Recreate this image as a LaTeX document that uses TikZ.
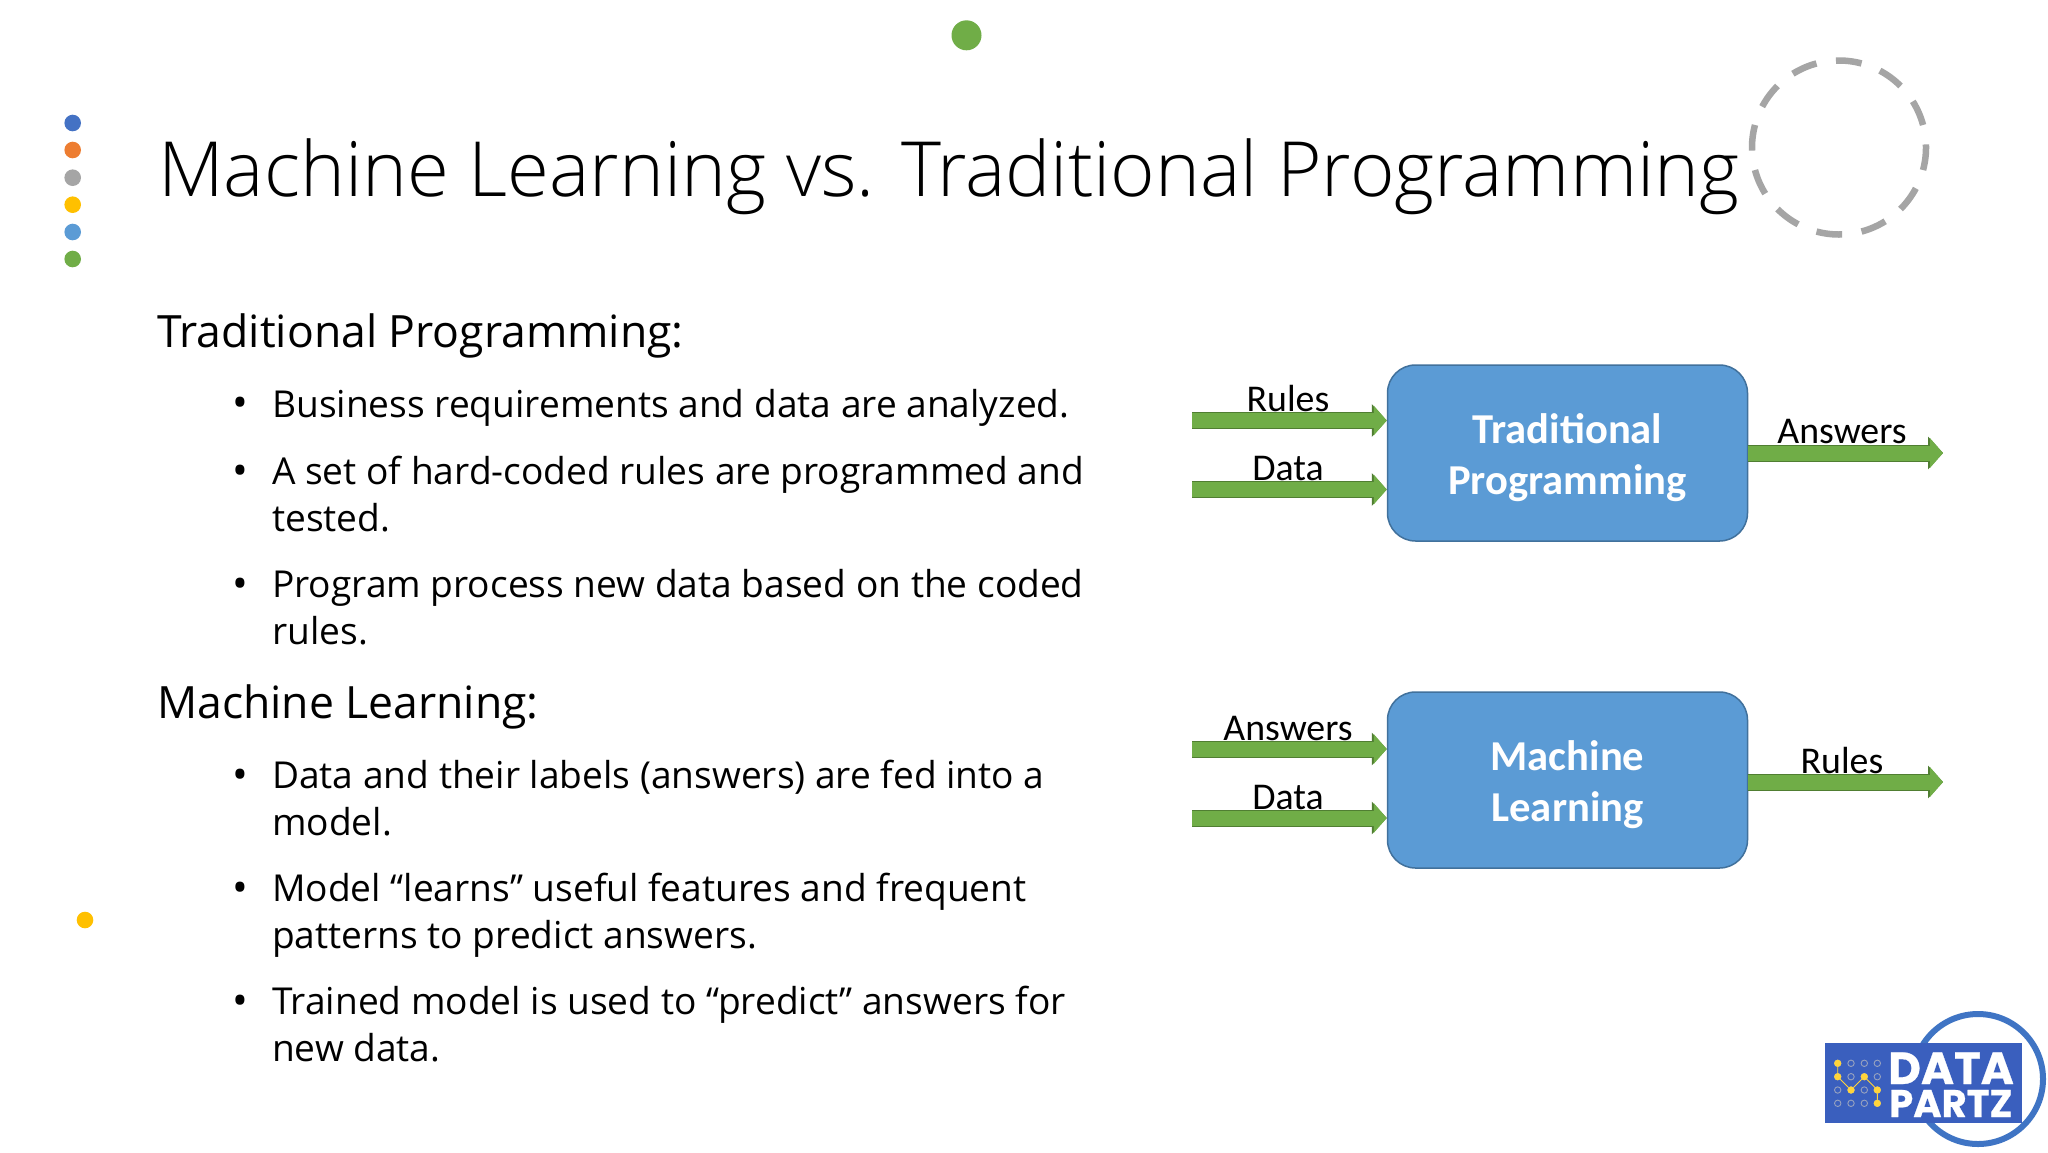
\documentclass[tikz,border=0pt]{standalone}
\usepackage{fontspec}
\usetikzlibrary{arrows.meta,calc}
\setmainfont{Open Sans}
\newfontfamily\titlefont{Open Sans Light}
\newfontfamily\boxfont{Carlito}
\newfontfamily\logofont[FakeBold=0.6]{Poppins}
\definecolor{arrowgreen}{HTML}{70AD47}
\definecolor{arrowedge}{HTML}{507E32}
\definecolor{boxblue}{HTML}{5B9BD5}
\definecolor{boxedge}{HTML}{41719C}
\definecolor{logoblue}{HTML}{3A5FBE}
\definecolor{ringblue}{HTML}{3F74C4}
\definecolor{logoyellow}{HTML}{FFD43B}
\definecolor{dashgrey}{HTML}{A5A5A5}
\tikzset{
  x=1pt,y=-1pt,
  heading/.style={anchor=base west,inner sep=0pt,font=\fontsize{44.5}{46.4}\selectfont},
  item/.style={anchor=base west,inner sep=0pt,align=left,font=\fontsize{37.1}{46.4}\selectfont},
  bulletmark/.style={anchor=base,inner sep=0pt,font=\fontsize{42}{46.4}\selectfont},
  process/.style={draw=boxedge,line width=1.5pt,fill=boxblue,rounded corners=28pt,minimum width=360pt,minimum height=176pt,
     text=white,align=center,inner sep=0pt,font=\boxfont\bfseries\fontsize{42.6}{51}\selectfont},
  flow/.style={line width=15pt,draw=arrowgreen,-{Triangle[length=13pt,width=29pt,fill=arrowgreen]},
     preaction={draw=arrowedge,line width=17pt,-{Triangle[length=15pt,width=32pt,fill=arrowedge]}}},
  flowlabel/.style={anchor=base,inner sep=0pt,font=\boxfont\fontsize{37.8}{40}\selectfont},
}
\begin{document}
\begin{tikzpicture}
\useasboundingbox (0,0) rectangle (2048,1152);
\fill[white] (0,0) rectangle (2048,1152);
% decorative dots
\foreach \yy/\cc in {123/4472C4,150/ED7D31,177.7/A5A5A5,204.7/FFC000,232/5B9BD5,259/70AD47}{
  \definecolor{tmpc}{HTML}{\cc}
  \fill[tmpc] (72.7,\yy) circle[radius=8.3pt];
}
\definecolor{tmpc}{HTML}{70AD47}\fill[tmpc] (966.5,35.3) circle[radius=15pt];
\definecolor{tmpc}{HTML}{FFC000}\fill[tmpc] (85,920) circle[radius=8.3pt];
% dashed ring
\coordinate (ring) at (1839,147.5);
\foreach \k in {0,...,11}{
  \pgfmathsetmacro{\aa}{-15+30*\k}
  \draw[dashgrey,line width=6.5pt] ($(ring)+(\aa:87pt)$) arc[start angle=\aa,delta angle=17,radius=87pt];
}
% title
\node[anchor=base west,inner sep=0pt,font=\titlefont\fontsize{76.1}{80}\selectfont] (title) at (158,196) {Machine Learning vs. Traditional Programming};
% left text
\node[heading] (h1) at (157,347) {Traditional Programming:};
\node[bulletmark] at (240,417) {•};
\node[item] (i1) at (272,417) {Business requirements and data are analyzed.};
\node[bulletmark] at (240,485) {•};
\node[item] (i2) at (272,531) {A set of hard-coded rules are programmed and\\tested.};
\node[bulletmark] at (240,598) {•};
\node[item] (i3) at (272,644) {Program process new data based on the coded\\rules.};
\node[heading] (h2) at (157,718) {Machine Learning:};
\node[bulletmark] at (240,789) {•};
\node[item] (i4) at (272,835) {Data and their labels (answers) are fed into a\\model.};
\node[bulletmark] at (240,902) {•};
\node[item] (i5) at (272,948) {Model “learns” useful features and frequent\\patterns to predict answers.};
\node[bulletmark] at (240,1015) {•};
\node[item] (i6) at (272,1061) {Trained model is used to “predict” answers for\\new data.};
% process boxes
\node[process] (tp) at (1567.5,453) {\rule{0pt}{39pt}Traditional\\Programming};
\node[process] (ml) at (1567.5,780) {\rule{0pt}{39pt}Machine\\Learning};
% arrows
\coordinate (tpa) at (1192,420.5);
\coordinate (tpb) at (1192,489.5);
\coordinate (tpc) at (1943,453);
\coordinate (mla) at (1192,749);
\coordinate (mlb) at (1192,818);
\coordinate (mlc) at (1943,782);
\draw[flow] (tpa) -- (tpa -| tp.west);
\draw[flow] (tpb) -- (tpb -| tp.west);
\draw[flow] (tp.east |- tpc) -- (tpc);
\draw[flow] (mla) -- (mla -| ml.west);
\draw[flow] (mlb) -- (mlb -| ml.west);
\draw[flow] (ml.east |- mlc) -- (mlc);
\node[flowlabel] at (1288,411) {Rules};
\node[flowlabel] at (1288,480) {Data};
\node[flowlabel] at (1842,443) {Answers};
\node[flowlabel] at (1288,740) {Answers};
\node[flowlabel] at (1288,809) {Data};
\node[flowlabel] at (1842,773) {Rules};
% logo
\draw[ringblue,line width=6pt] (1978,1079) circle[radius=65pt];
\fill[logoblue] (1825,1043) rectangle (2022,1123);
\draw[logoyellow,line width=.9pt] (1837.7,1063.3) -- (1837.7,1076.7) -- (1851,1090) -- (1864.3,1076.7) -- (1877.3,1090) -- (1877.3,1103.3);
\foreach \xx in {1837.7,1851,1864.3,1877.3}\foreach \yy in {1063.3,1076.7,1090,1103.3}{
  \draw[lightgray!70!logoblue,line width=.9pt,fill=logoblue] (\xx,\yy) circle[radius=3.2pt];
}
\foreach \xx/\yy in {1837.7/1063.3,1837.7/1076.7,1864.3/1076.7,1851/1090,1877.3/1090,1877.3/1103.3}{
  \fill[logoyellow] (\xx,\yy) circle[radius=3.6pt];
}
\node[anchor=base west,inner sep=0pt,text=white,font=\logofont\bfseries\fontsize{45}{45}\selectfont] (logo1) at (1888,1084) {DATA};
\node[anchor=base west,inner sep=0pt,text=white,font=\logofont\bfseries\fontsize{38.5}{38.5}\selectfont] (logo2) at (1889,1117) {PARTZ};
\end{tikzpicture}
\end{document}
